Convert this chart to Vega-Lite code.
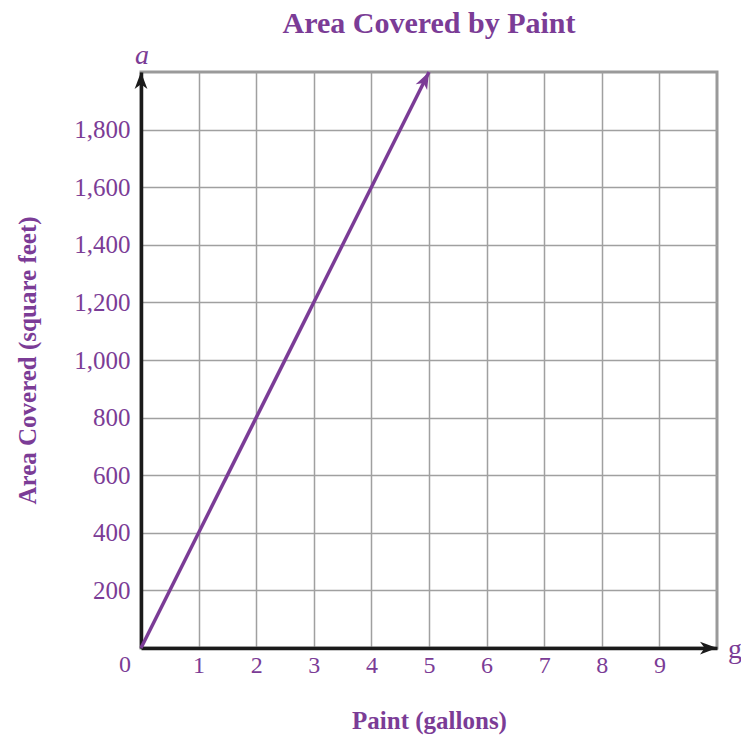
{
  "$schema": "https://vega.github.io/schema/vega-lite/v6.json",
  "width": 576,
  "height": 576,
  "autosize": {"type": "none"},
  "padding": {"left": 141, "top": 72, "right": 24, "bottom": 88},
  "background": "white",
  "title": {
    "text": "Area Covered by Paint",
    "font": "Liberation Serif",
    "fontSize": 30,
    "fontWeight": "bold",
    "color": "#7b3c96",
    "anchor": "middle",
    "frame": "group",
    "baseline": "alphabetic",
    "offset": 4,
    "dy": 25
  },
  "encoding": {
    "x": {
      "field": "g",
      "type": "quantitative",
      "scale": {"domain": [0, 10], "nice": false, "zero": false},
      "axis": {
        "values": [1, 2, 3, 4, 5, 6, 7, 8, 9],
        "title": "Paint (gallons)",
        "titleY": 80,
        "titleBaseline": "alphabetic",
        "labelBaseline": "alphabetic",
        "labelPadding": 24,
        "format": "d"
      }
    },
    "y": {
      "field": "a",
      "type": "quantitative",
      "scale": {"domain": [0, 2000], "nice": false},
      "axis": {
        "values": [200, 400, 600, 800, 1000, 1200, 1400, 1600, 1800],
        "title": "Area Covered (square feet)",
        "titleX": -106,
        "titleBaseline": "alphabetic",
        "labelBaseline": "middle",
        "labelPadding": 11,
        "labelFontSize": 25,
        "format": ",d"
      }
    }
  },
  "layer": [
    {
      "data": {"values": [{"g": 0, "a": 0}, {"g": 5, "a": 2000}]},
      "mark": {"type": "line", "color": "#7b3c96", "strokeWidth": 3.5, "clip": false}
    },
    {
      "data": {"values": [{"g": 5, "a": 2000}]},
      "mark": {"type": "point", "filled": true, "opacity": 1, "color": "#7b3c96", "size": 289, "angle": 26.565, "shape": "M0,0 L-0.75,2 L0,1.45 L0.75,2 Z", "clip": false}
    },
    {
      "data": {"values": [{"g": 10, "a": 0}]},
      "mark": {"type": "point", "filled": true, "opacity": 1, "color": "#1a1a1a", "size": 289, "shape": "M0,0 L-2,-0.75 L-1.45,0 L-2,0.75 Z", "clip": false}
    },
    {
      "data": {"values": [{"g": 0, "a": 2000}]},
      "mark": {"type": "point", "filled": true, "opacity": 1, "color": "#1a1a1a", "size": 289, "shape": "M0,0 L-0.75,2 L0,1.45 L0.75,2 Z", "clip": false}
    },
    {
      "data": {"values": [{"g": 0, "a": 0, "label": "0"}]},
      "mark": {"type": "text", "font": "Liberation Serif", "fontSize": 24, "color": "#7b3c96", "align": "center", "baseline": "alphabetic", "dx": -16, "dy": 24},
      "encoding": {"text": {"field": "label"}}
    },
    {
      "data": {"values": [{"g": 0, "a": 2000, "label": "a"}]},
      "mark": {"type": "text", "font": "Liberation Serif", "fontSize": 28, "fontStyle": "italic", "color": "#7b3c96", "align": "center", "baseline": "alphabetic", "dx": 1, "dy": -8},
      "encoding": {"text": {"field": "label"}}
    },
    {
      "data": {"values": [{"g": 10, "a": 0, "label": "g"}]},
      "mark": {"type": "text", "font": "Liberation Serif", "fontSize": 28, "color": "#7b3c96", "align": "left", "baseline": "alphabetic", "dx": 11, "dy": 10},
      "encoding": {"text": {"field": "label"}}
    }
  ],
  "config": {
    "view": {"stroke": "#9a9a9a", "strokeWidth": 3},
    "axis": {
      "grid": true,
      "gridColor": "#a0a0a0",
      "gridWidth": 1.5,
      "gridOpacity": 1,
      "domain": true,
      "domainColor": "#1a1a1a",
      "domainWidth": 3.5,
      "ticks": false,
      "tickSize": 0,
      "labelFont": "Liberation Serif",
      "labelFontSize": 24,
      "labelColor": "#7b3c96",
      "titleFont": "Liberation Serif",
      "titleFontSize": 25,
      "titleFontWeight": "bold",
      "titleColor": "#7b3c96"
    }
  }
}
